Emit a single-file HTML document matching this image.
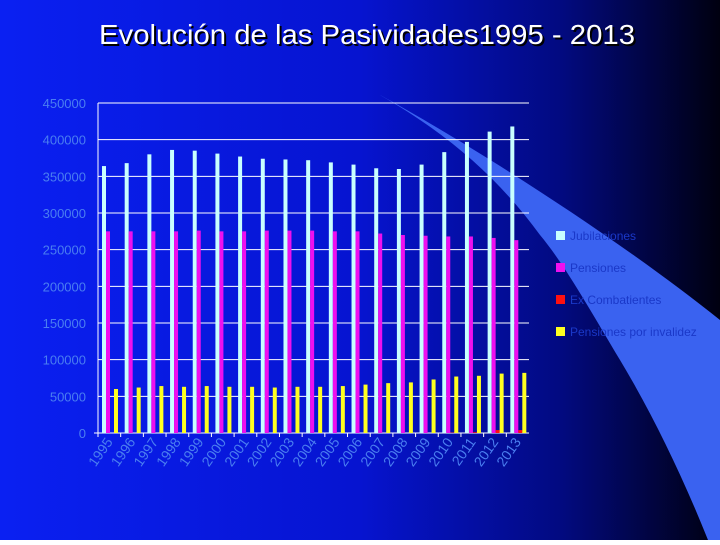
<!DOCTYPE html>
<html><head><meta charset="utf-8"><style>
html,body{margin:0;padding:0}
body{width:720px;height:540px;overflow:hidden;font-family:"Liberation Sans",sans-serif}
</style></head><body>
<svg width="720" height="540" xmlns="http://www.w3.org/2000/svg">
<defs>
<linearGradient id="bg" x1="0" y1="0" x2="1" y2="0">
<stop offset="0" stop-color="#0a20f2"/><stop offset="0.5" stop-color="#0614d0"/><stop offset="0.78" stop-color="#020a80"/><stop offset="1" stop-color="#000010"/>
</linearGradient>
</defs>
<rect width="720" height="540" fill="url(#bg)"/>
<path d="M380,95 C480,150 620,240 720,320 L720,540 L708,540 C680,470 650,410 620,360 C590,310 565,265 540,235 C500,180 450,135 380,95 Z" fill="#3a62f0"/>
<text x="101" y="46" textLength="536" lengthAdjust="spacingAndGlyphs" font-size="28" fill="#000">Evolución de las Pasividades1995 - 2013</text>
<text x="99" y="44" textLength="536" lengthAdjust="spacingAndGlyphs" font-size="28" fill="#fff">Evolución de las Pasividades1995 - 2013</text>
<g id="plot"></g>
</svg>
<script>
const years=["1995","1996","1997","1998","1999","2000","2001","2002","2003","2004","2005","2006","2007","2008","2009","2010","2011","2012","2013"];
const jubilaciones=[364000,368000,380000,386000,385000,381000,377000,374000,373000,372000,369000,366000,361000,360000,366000,383000,397000,411000,418000];
const pensiones=[275000,275000,275000,275000,276000,275000,275000,276000,276000,276000,275000,275000,272000,270000,269000,268000,268000,266000,263000];
const excombatientes=[0,0,0,0,0,0,0,0,0,0,0,0,0,0,0,500,1000,4000,4000];
const invalidez=[60000,62000,64000,63000,64000,63000,63000,62000,63000,63000,64000,66000,68000,69000,73000,77000,78000,81000,82000];
const yTicks=[0,50000,100000,150000,200000,250000,300000,350000,400000,450000];
const seriesNames=["Jubilaciones","Pensiones","Ex Combatientes","Pensiones por invalidez"];
const colors=["#c8ffff","#ee10ee","#ff1010","#ffff20"];
const series=[jubilaciones,pensiones,excombatientes,invalidez];
const NS="http://www.w3.org/2000/svg";
const g=document.getElementById('plot');
const x0=98,x1=529,y0=433,yTop=103,yMax=450000;
const step=(x1-x0)/years.length;
const Y=v=>y0-(v/yMax)*(y0-yTop);
const X=i=>x0+i*step;
function mk(t,a){const e=document.createElementNS(NS,t);for(const k in a)e.setAttribute(k,a[k]);g.appendChild(e);return e;}
yTicks.forEach((t,i)=>{
 if(i>0){const l=mk('line',{x1:x0,x2:x1,y1:Y(t),y2:Y(t),stroke:'#ffffff','stroke-width':1});
 
 }
 const tx=mk('text',{x:x0-12,y:Y(t)+5,'text-anchor':'end','font-size':13,fill:'#4a7ef0'});
 tx.textContent=t;
 
 
});
const ax=mk('line',{x1:x0,x2:x0,y1:yTop,y2:y0,stroke:'#fff','stroke-width':1});


const bx=mk('line',{x1:x0-4,x2:x1,y1:y0,y2:y0,stroke:'#fff','stroke-width':1});


const offs=[4,8,12,16];
years.forEach((yr,i)=>{
 const tk=mk('line',{x1:X(i),x2:X(i),y1:y0,y2:y0+4,stroke:'#fff'});
 
 
 series.forEach((s,k)=>{
  const v=s[i];
  const r=mk('rect',{x:X(i)+offs[k],y:Y(v),width:4,height:y0-Y(v),fill:colors[k]});
  
  
 });
 const cx=X(i)+step/2+4, cy=y0+9;
 const t=mk('text',{x:cx,y:cy,'text-anchor':'end','font-size':14,fill:'#4a7ef0',transform:`rotate(-55 ${cx} ${cy})`});
 t.textContent=yr;
 
 
});
seriesNames.forEach((n,k)=>{
 const ly=236+k*32;
 const r=mk('rect',{x:556,y:ly-5,width:9,height:9,fill:colors[k]});
 
 
 const t=mk('text',{x:570,y:ly+4,'font-size':12,fill:'#1a38c8'});
 t.textContent=n;
 
 
});
</script>
</body></html>
